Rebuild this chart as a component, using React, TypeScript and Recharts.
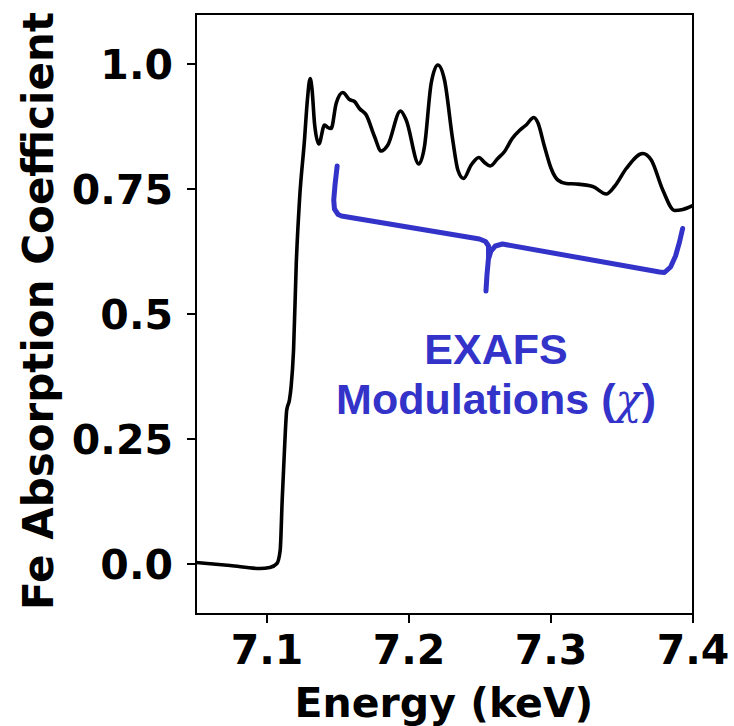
import React from 'react';
import { LineChart, Line, XAxis, YAxis, ReferenceArea, ReferenceDot } from 'recharts';

const energy = [
  7.05, 7.074, 7.095, 7.102, 7.107, 7.1093, 7.1107, 7.1123, 7.1139, 7.1158, 7.117, 7.1187,
  7.1206, 7.1229, 7.1264, 7.1285, 7.1304, 7.1317, 7.1335, 7.1365, 7.1405, 7.1428, 7.1452,
  7.1487, 7.1534, 7.1581, 7.1616, 7.1651, 7.1699, 7.1757, 7.1804, 7.1851, 7.194, 7.198,
  7.2069, 7.2109, 7.2156, 7.2203, 7.225, 7.2308, 7.2344, 7.2384, 7.2438, 7.2492, 7.2532,
  7.2572, 7.2625, 7.2673, 7.2727, 7.2778, 7.2825, 7.2879, 7.2907, 7.2954, 7.3001, 7.3048,
  7.3107, 7.3177, 7.3294, 7.3389, 7.3447, 7.353, 7.3646, 7.3706, 7.3787, 7.387, 7.3928, 7.4,
];
const absorption = [
  0.003, -0.003, -0.009, -0.007, 0.001, 0.028, 0.128, 0.228, 0.308, 0.328, 0.355, 0.428,
  0.6, 0.728, 0.848, 0.93, 0.971, 0.95, 0.88, 0.84, 0.878, 0.873, 0.871,
  0.921, 0.943, 0.929, 0.925, 0.911, 0.898, 0.855, 0.826, 0.838, 0.906, 0.888,
  0.8, 0.835, 0.961, 0.998, 0.968, 0.848, 0.788, 0.771, 0.798, 0.813, 0.803,
  0.796, 0.811, 0.825, 0.851, 0.867, 0.878, 0.893, 0.883, 0.835, 0.791, 0.768,
  0.761, 0.76, 0.755, 0.74, 0.755, 0.791, 0.821, 0.808, 0.748, 0.707, 0.709, 0.717,
];

const braceLeftE = [7.1494, 7.1479, 7.147, 7.1475, 7.1501, 7.1525, 7.2496, 7.2539, 7.256, 7.256, 7.2549, 7.2542];
const braceLeftMu = [0.796, 0.758, 0.728, 0.71, 0.699, 0.696, 0.65, 0.645, 0.636, 0.612, 0.578, 0.546];
const braceRightE = [7.3927, 7.3905, 7.3877, 7.3842, 7.3799, 7.3764, 7.2658, 7.2608, 7.2577, 7.2562];
const braceRightMu = [0.671, 0.644, 0.616, 0.594, 0.583, 0.584, 0.64, 0.636, 0.626, 0.612];

const xTicks = [7.1, 7.2, 7.3, 7.4];
const xTickLabels = ['7.1', '7.2', '7.3', '7.4'];
const yTicks = [0, 0.25, 0.5, 0.75, 1.0];
const yTickLabels = ['0.0', '0.25', '0.5', '0.75', '1.0'];
const xDomain = [7.05, 7.4];
const yDomain = [-0.1, 1.1];

const xTitle = 'Energy (keV)';
const yTitle = 'Fe Absorption Coefficient';
const annotationTitle = 'EXAFS';
const annotationSub = 'Modulations';
const annotationSymbol = '\u03c7';
const annotationX = 7.2613;
const annotationY = 0.401;

const BLUE = '#3333C9';
const TICK_FONT = "'DejaVu Sans', sans-serif";

const spectrum = energy.map((x, i) => ({ x, y: absorption[i] }));
const braceLeft = braceLeftE.map((x, i) => ({ x, y: braceLeftMu[i] }));
const braceRight = braceRightE.map((x, i) => ({ x, y: braceRightMu[i] }));

const fmtX = (v: number) => xTickLabels[xTicks.findIndex((t) => Math.abs(t - v) < 1e-6)] ?? String(v);
const fmtY = (v: number) => yTickLabels[yTicks.findIndex((t) => Math.abs(t - v) < 1e-6)] ?? String(v);

const AnnotationLabel = (props: any) => {
  const vb = props.viewBox || {};
  const cx = (vb.x ?? 0) + (vb.width ?? 0) / 2;
  const cy = (vb.y ?? 0) + (vb.height ?? 0) / 2;
  const common = {
    textAnchor: 'middle' as const,
    fontFamily: "'Liberation Sans', Arial, sans-serif",
    fontWeight: 'bold',
    fontSize: 43,
    fill: BLUE,
  };
  return (
    <g>
      <text x={cx} y={cy} {...common}>{annotationTitle}</text>
      <text x={cx} y={cy + 50} {...common}>
        {annotationSub} (
        <tspan fontStyle="italic" fontWeight="normal" fontFamily="'DejaVu Serif', serif">{annotationSymbol}</tspan>
        )
      </text>
    </g>
  );
};

const YTitle = (props: any) => {
  const vb = props.viewBox || {};
  const x = (vb.x ?? 0) + 53.3;
  const y = (vb.y ?? 0) + (vb.height ?? 0) / 2 - 3;
  return (
    <text
      x={x}
      y={y}
      transform={`rotate(-90, ${x}, ${y})`}
      textAnchor="middle"
      fontFamily={TICK_FONT}
      fontWeight="bold"
      fontSize={42}
      fill="#000"
    >
      {yTitle}
    </text>
  );
};

const XTitle = (props: any) => {
  const vb = props.viewBox || {};
  const x = (vb.x ?? 0) + (vb.width ?? 0) / 2 - 0.5;
  const y = (vb.y ?? 0) + 102.7;
  return (
    <text x={x} y={y} textAnchor="middle" fontFamily={TICK_FONT} fontWeight="bold" fontSize={41} fill="#000">
      {xTitle}
    </text>
  );
};

export default function App() {
  return (
    <div style={{ position: 'fixed', left: 0, top: 0, width: 734, height: 726, background: '#fff' }}>
      <LineChart width={734} height={726} margin={{ top: 14, right: 41, left: 0, bottom: 0 }}>
        <XAxis
          type="number"
          dataKey="x"
          domain={xDomain}
          ticks={xTicks}
          tickFormatter={fmtX}
          allowDataOverflow
          height={112}
          tickSize={9}
          tickMargin={12}
          axisLine={{ stroke: '#000', strokeWidth: 2 }}
          tickLine={{ stroke: '#000', strokeWidth: 2 }}
          tick={{ fontSize: 41, fontWeight: 'bold', fontFamily: TICK_FONT, fill: '#000' }}
          label={XTitle}
        />
        <YAxis
          type="number"
          dataKey="y"
          domain={yDomain}
          ticks={yTicks}
          tickFormatter={fmtY}
          allowDataOverflow
          width={196}
          tickSize={9}
          tickMargin={14}
          axisLine={{ stroke: '#000', strokeWidth: 2 }}
          tickLine={{ stroke: '#000', strokeWidth: 2 }}
          tick={{ fontSize: 41, fontWeight: 'bold', fontFamily: TICK_FONT, fill: '#000' }}
          label={YTitle}
        />
        <ReferenceArea
          x1={xDomain[0]}
          x2={xDomain[1]}
          y1={yDomain[0]}
          y2={yDomain[1]}
          fill="none"
          fillOpacity={0}
          stroke="#000"
          strokeWidth={2}
          ifOverflow="visible"
        />
        <Line
          data={spectrum}
          dataKey="y"
          type="monotone"
          stroke="#000"
          strokeWidth={3.6}
          dot={false}
          activeDot={false}
          isAnimationActive={false}
        />
        <Line
          data={braceLeft}
          dataKey="y"
          type="linear"
          stroke={BLUE}
          strokeWidth={5}
          strokeLinejoin="round"
          strokeLinecap="round"
          dot={false}
          activeDot={false}
          isAnimationActive={false}
        />
        <Line
          data={braceRight}
          dataKey="y"
          type="linear"
          stroke={BLUE}
          strokeWidth={5}
          strokeLinejoin="round"
          strokeLinecap="round"
          dot={false}
          activeDot={false}
          isAnimationActive={false}
        />
        <ReferenceDot x={annotationX} y={annotationY} r={0} fill="none" stroke="none" label={AnnotationLabel} />
      </LineChart>
    </div>
  );
}
